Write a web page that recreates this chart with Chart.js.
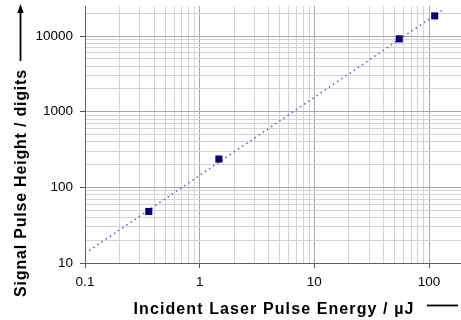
<!DOCTYPE html>
<html>
<head>
<meta charset="utf-8">
<script src="https://cdn.jsdelivr.net/npm/chart.js@4"></script>
<style>
  html, body { margin: 0; padding: 0; background: #fff; }
  #wrap { width: 461px; height: 320px; }
</style>
</head>
<body>
<div id="wrap"><canvas id="c" width="461" height="320"></canvas></div>
<script>
// measured points (energy in µJ, signal in digits)
const energy = [0.36, 1.47, 55, 112];
const signal = [48, 237, 9200, 18500];
// dotted power-law trend line, two end points
const trendX = [0.1, 137];
const trendY = [13.4, 23100];

const xTickLabels = ["0.1", "1", "10", "100"];
const yTickLabels = ["10", "100", "1000", "10000"];

const xTitle = "Incident Laser Pulse Energy / \u00b5J";
const yTitle = "Signal Pulse Height / digits";

// grid every 1..9 x decade
function logGrid(min, max) {
  const out = [];
  for (let e = Math.floor(Math.log10(min)); e <= Math.ceil(Math.log10(max)); e++) {
    for (let m = 1; m <= 9; m++) {
      const v = m * Math.pow(10, e);
      if (v >= min * 0.999 && v <= max * 1.001) out.push({ value: v });
    }
  }
  return out;
}
const isMajor = (v, labels) => labels.some(l => Math.abs(parseFloat(l) - v) < 1e-9 * v);

const gridCol = (labels) => (ctx) =>
  ctx.tick && isMajor(ctx.tick.value, labels) ? "#a8a8a8" : "#d4d4d4";
const tickCol = (labels) => (ctx) =>
  ctx.tick && isMajor(ctx.tick.value, labels) ? "#555" : "rgba(0,0,0,0)";

const titles = {
  id: "titles",
  afterDraw(chart) {
    const c = chart.ctx;
    c.save();
    c.fillStyle = "#000";
    c.strokeStyle = "#000";
    c.font = "bold 16px 'Liberation Sans', Arial, sans-serif";
    c.textAlign = "center";
    c.textBaseline = "alphabetic";
    // y title
    c.save();
    c.letterSpacing = "0.8px";
    c.translate(26, 183);
    c.rotate(-Math.PI / 2);
    c.fillText(yTitle, 0, 0);
    c.restore();
    // arrow above y title
    c.lineWidth = 1.8;
    c.beginPath();
    c.moveTo(20.5, 61);
    c.lineTo(20.5, 12);
    c.stroke();
    c.beginPath();
    c.moveTo(20.5, 4);
    c.lineTo(17.3, 13);
    c.lineTo(23.7, 13);
    c.closePath();
    c.fill();
    // x title
    c.save();
    c.letterSpacing = "1.1px";
    c.fillText(xTitle, 274, 314);
    c.restore();
    c.beginPath();
    c.moveTo(427, 305.5);
    c.lineTo(458, 305.5);
    c.stroke();
    c.restore();
  }
};

const tickFont = { family: "'Liberation Sans', Arial, sans-serif", size: 13.5 };

new Chart(document.getElementById("c"), {
  type: "scatter",
  data: {
    datasets: [
      {
        type: "line",
        data: trendX.map((x, i) => ({ x, y: trendY[i] })),
        borderColor: "#5a5ac8",
        borderWidth: 1.5,
        borderDash: [1.5, 3.5],
        pointRadius: 0,
        fill: false,
        order: 2
      },
      {
        data: energy.map((x, i) => ({ x, y: signal[i] })),
        pointStyle: "rect",
        pointRadius: 5,
        pointBackgroundColor: "#000080",
        pointBorderColor: "#000080",
        pointBorderWidth: 0,
        order: 1
      }
    ]
  },
  options: {
    responsive: false,
    animation: false,
    layout: { autoPadding: false, padding: { top: 6, right: 0, left: 0, bottom: 0 } },
    plugins: { legend: { display: false }, tooltip: { enabled: false } },
    scales: {
      x: {
        type: "logarithmic",
        min: 0.1,
        max: 190,
        afterBuildTicks: (s) => { s.ticks = logGrid(0.1, 190); },
        afterFit: (s) => {
          s.height = 57;
          s.paddingLeft = 0; s.paddingRight = 0;
        },
        grid: { color: gridCol(xTickLabels), tickColor: tickCol(xTickLabels), tickLength: 5, lineWidth: 1 },
        border: { display: true, color: "#606060", width: 1 },
        ticks: {
          autoSkip: false,
          maxRotation: 0,
          padding: 6,
          color: "#000",
          font: tickFont,
          callback: (v) => {
            const i = xTickLabels.findIndex(l => Math.abs(parseFloat(l) - v) < 1e-9 * v);
            return i >= 0 ? xTickLabels[i] : "";
          }
        }
      },
      y: {
        type: "logarithmic",
        min: 10,
        max: 25000,
        afterBuildTicks: (s) => { s.ticks = logGrid(10, 25000); },
        afterFit: (s) => {
          s.width = 85;
          s.paddingTop = 0; s.paddingBottom = 0;
        },
        grid: { color: gridCol(yTickLabels), tickColor: tickCol(yTickLabels), tickLength: 5, lineWidth: 1 },
        border: { display: true, color: "#606060", width: 1 },
        ticks: {
          autoSkip: false,
          padding: 7,
          color: "#000",
          font: tickFont,
          callback: (v) => {
            const i = yTickLabels.findIndex(l => Math.abs(parseFloat(l) - v) < 1e-9 * v);
            return i >= 0 ? yTickLabels[i] : "";
          }
        }
      }
    }
  },
  plugins: [titles]
});
</script>
</body>
</html>
